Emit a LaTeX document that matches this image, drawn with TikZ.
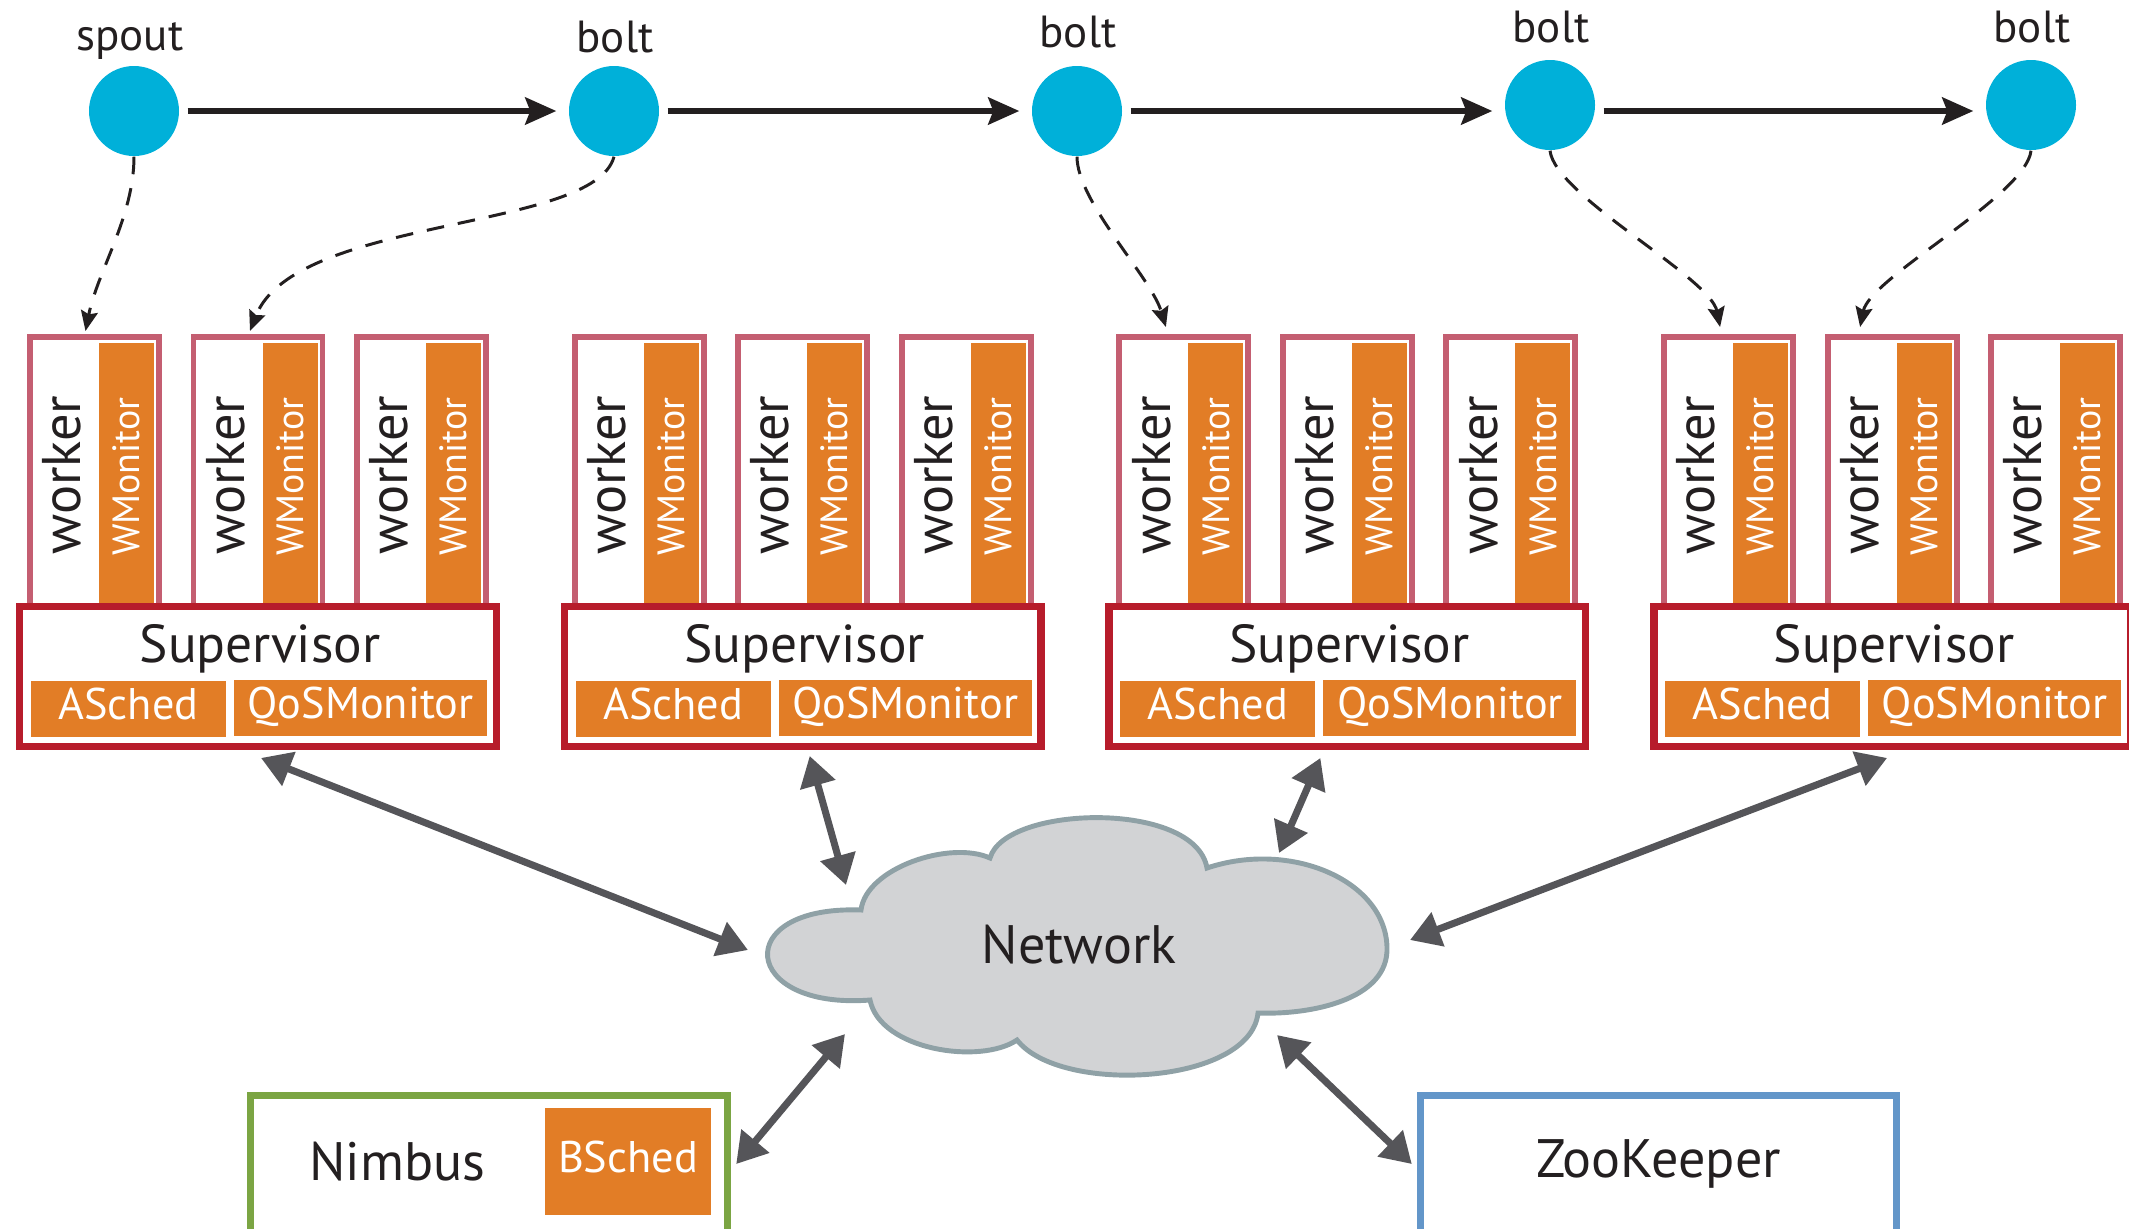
\documentclass[tikz,border=0pt]{standalone}
\usepackage{fontspec}
\setmainfont{PT Sans}
\usetikzlibrary{arrows.meta}

\definecolor{boltblue}{HTML}{00B0D9}
\definecolor{wkpink}{HTML}{C45E71}
\definecolor{supred}{HTML}{B71C2B}
\definecolor{modorange}{HTML}{E27D26}
\definecolor{netgray}{HTML}{555559}
\definecolor{cloudfill}{HTML}{D2D3D5}
\definecolor{cloudline}{HTML}{8FA1A6}
\definecolor{nimgreen}{HTML}{7BA543}
\definecolor{zkblue}{HTML}{6396C9}
\definecolor{ink}{HTML}{231F20}

\begin{document}
\begin{tikzpicture}[x=0.1mm, y=-0.1mm,
  task/.style={circle, fill=boltblue, minimum size=0.9cm, inner sep=0pt},
  tasklabel/.style={anchor=base, text=ink, inner sep=0pt, font=\fontsize{12.8}{14}\selectfont},
  flow/.style={ink, line width=1.7pt, -{Stealth[length=0.31cm, width=0.27cm, inset=0.05cm]}, shorten <=0.08cm, shorten >=0.12cm},
  assign/.style={ink, line width=0.85pt, dash pattern=on 5pt off 4pt, -{Stealth[length=0.2cm, width=0.17cm, inset=0.03cm]}},
  workerbox/.style={draw=wkpink, fill=white, line width=1.7pt, minimum width=1.29cm, minimum height=3cm, inner sep=0pt, outer sep=0pt},
  wmon/.style={fill=modorange, text=white, minimum width=2.68cm, minimum height=0.55cm, inner sep=0pt, font=\fontsize{10.8}{12}\selectfont},
  wtext/.style={text=ink, inner sep=0pt, font=\fontsize{15.5}{17}\selectfont},
  supbox/.style={draw=supred, fill=white, line width=2.1pt, minimum width=4.765cm, minimum height=1.395cm, inner sep=0pt},
  suptext/.style={text=ink, inner sep=0pt, font=\fontsize{15.2}{17}\selectfont},
  module/.style={fill=modorange, text=white, inner sep=0pt, minimum height=0.56cm, text height=0.7em, text depth=0.1em, font=\fontsize{12.6}{14}\selectfont},
  link/.style={netgray, line width=2pt, {Triangle[length=0.3cm, width=0.35cm]}-{Triangle[length=0.3cm, width=0.35cm]}},
  bigtext/.style={text=ink, inner sep=0pt, font=\fontsize{15.4}{17}\selectfont},
  ]

\useasboundingbox (0,0) rectangle (2129,1228);

% topology
\node (sp) at (134,111) [task] {};
\node (b1) at (614,111) [task] {};
\node (b2) at (1077,111) [task] {};
\node (b3) at (1550,105) [task] {};
\node (b4) at (2031,105) [task] {};
\node (lsp) at (130,50) [tasklabel] {spout};
\node (lb1) at (615,52) [tasklabel] {bolt};
\node (lb2) at (1078,47) [tasklabel] {bolt};
\node (lb3) at (1551,42) [tasklabel] {bolt};
\node (lb4) at (2032,42) [tasklabel] {bolt};

\draw [flow] (sp) -- (b1);
\draw [flow] (b1) -- (b2);
\draw [flow] (b2.east) -- (b2.east -| b3.west);
\draw [flow] ([yshift=-0.06cm]b3.east) -- ([yshift=-0.06cm]b4.west);

% supervisors with their workers
\foreach \g in {0,...,3}{
  \begin{scope}[xshift=\g*5.447cm]
    \foreach \k in {0,1,2}{
      \node (w\g\k) at (94.5+163.5*\k,337) [workerbox, anchor=north] {};
      \node (m\g\k) at (126.5+163.5*\k,342) [wmon, rotate=90, anchor=east] {WMonitor};
      \node (t\g\k) at (62+163.5*\k,475) [wtext, rotate=90] {worker};
    }
    \node (sup\g) at (258,676.5) [supbox] {};
    \node (st\g) at (260,649) [suptext] {Supervisor};
    \node (as\g) at (128.5,709) [module, minimum width=1.95cm] {ASched};
    \node (qm\g) at (360.5,707.5) [module, minimum width=2.53cm] {QoSMonitor};
  \end{scope}
}

% placement of tasks on workers
\draw [assign] (sp.south) .. controls +(0,60) and +(12,-60) .. ([xshift=-0.09cm, yshift=0.06cm]w00.north);
\draw [assign] (b1.south) .. controls +(-20,75) and +(45,-115) .. ([xshift=-0.08cm, yshift=0.06cm]w01.north);
\draw [assign] (b2.south) .. controls +(0,45) and +(-15,-50) .. ([xshift=-0.18cm, yshift=0.1cm]w20.north);
\draw [assign] (b3.south) .. controls +(5,45) and +(-10,-50) .. ([xshift=-0.085cm, yshift=0.1cm]w30.north);
\draw [assign] (b4.south) .. controls +(-5,45) and +(10,-50) .. ([xshift=-0.32cm, yshift=0.1cm]w31.north);

% network
\draw [cloudline, fill=cloudfill, line width=1.4pt]
  (861,910) .. controls (866,868) and (950,840) .. (990,858)
  .. controls (1005,805) and (1195,800) .. (1207,868)
  .. controls (1290,840) and (1385,880) .. (1387,947)
  .. controls (1389,1000) and (1310,1015) .. (1258,1013)
  .. controls (1250,1085) and (1060,1095) .. (1017,1040)
  .. controls (980,1065) and (880,1050) .. (870,1000)
  .. controls (740,1010) and (730,905) .. (861,910) -- cycle;
\node (net) at (1079,945) [bigtext] {Network};

\coordinate (c1) at (748,950);
\coordinate (c2) at (846,885);
\coordinate (c3) at (1279,853);
\coordinate (c4) at (1410,940);
\coordinate (c5) at (845,1034);
\coordinate (c6) at (1277,1035);

\node (nim) at (489,1164) [draw=nimgreen, line width=2.1pt, minimum width=4.77cm, minimum height=1.37cm] {};
\node (nimt) at (397.5,1161.5) [bigtext] {Nimbus};
\node (bs) at (628,1161.5) [module, minimum width=1.66cm, minimum height=1.07cm] {BSched};
\node (zk) at (1658.5,1164) [draw=zkblue, line width=2.1pt, minimum width=4.76cm, minimum height=1.37cm, bigtext] {ZooKeeper};

\draw [link] ([xshift=0.03cm, yshift=-0.08cm]sup0.south) -- (c1);
\draw [link] ([xshift=0.07cm, yshift=-0.06cm]sup1.south) -- (c2);
\draw [link] ([xshift=-0.27cm, yshift=-0.08cm]sup2.south) -- (c3);
\draw [link] ([xshift=-0.05cm, yshift=-0.08cm]sup3.south) -- (c4);
\draw [link] ([xshift=0.05cm]nim.east) -- (c5);
\draw [link] ([xshift=-0.05cm]zk.west) -- (c6);

\end{tikzpicture}
\end{document}
